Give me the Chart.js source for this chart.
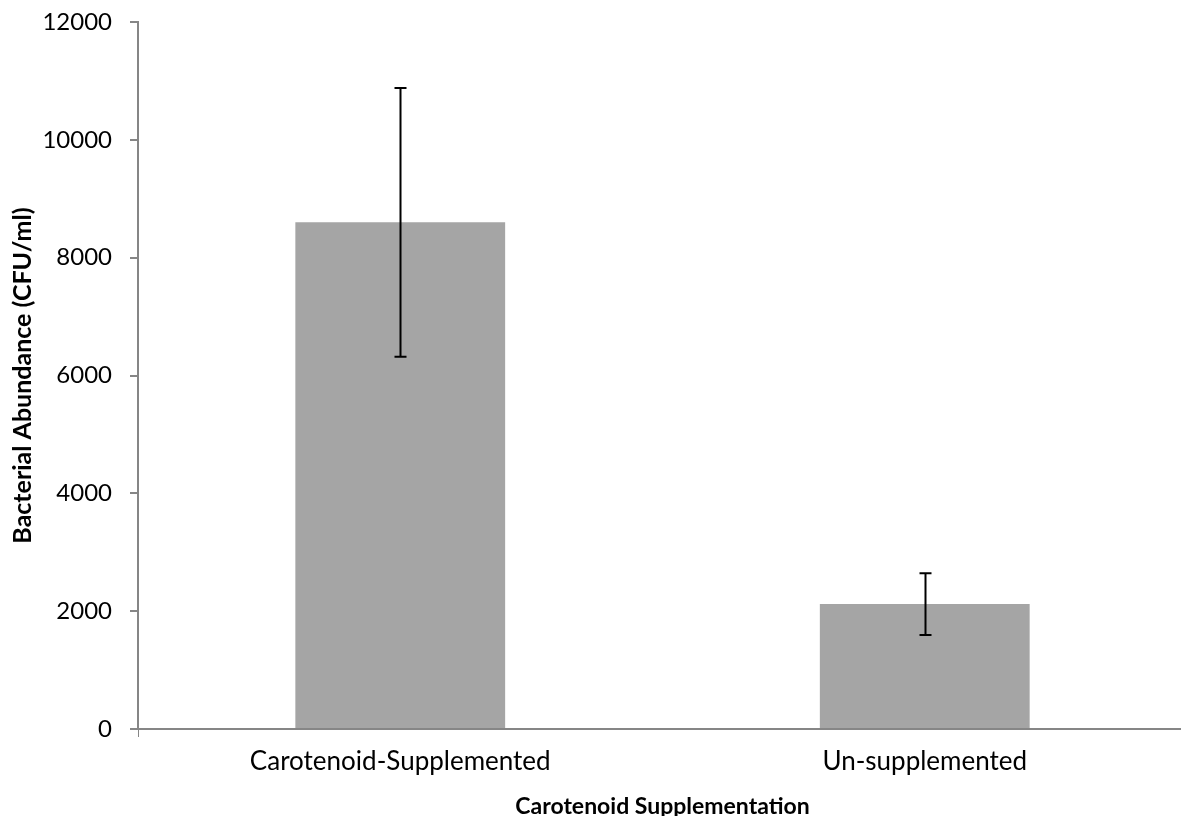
<!DOCTYPE html>
<html>
<head>
<meta charset="utf-8">
<script src="https://cdn.jsdelivr.net/npm/chart.js@4"></script>
<style>
  html, body { margin: 0; padding: 0; background: #fff; overflow: hidden; }
  #wrap { width: 1192px; height: 816px; }
</style>
</head>
<body>
<div id="wrap"><canvas id="bars"></canvas></div>
<script>
const categories = ["Carotenoid-Supplemented", "Un-supplemented"];
const abundance = [8600, 2120];
const errors = [2280, 525];
const yTicks = [0, 2000, 4000, 6000, 8000, 10000, 12000];

// error bars drawn through the y scale
const errorBars = {
  id: "errorBars",
  afterDatasetsDraw(chart) {
    const ctx = chart.ctx;
    const y = chart.scales.y;
    const meta = chart.getDatasetMeta(0);
    ctx.save();
    ctx.strokeStyle = "#000";
    ctx.lineWidth = 2;
    meta.data.forEach((bar, i) => {
      const top = y.getPixelForValue(abundance[i] + errors[i]);
      const bot = y.getPixelForValue(abundance[i] - errors[i]);
      const x = Math.round(bar.x) + 0.5;
      ctx.beginPath();
      ctx.moveTo(x, top); ctx.lineTo(x, bot);
      ctx.moveTo(x - 6, top); ctx.lineTo(x + 6, top);
      ctx.moveTo(x - 6, bot); ctx.lineTo(x + 6, bot);
      ctx.stroke();
    });
    ctx.restore();
  }
};

new Chart(document.querySelector("#bars"), {
  type: "bar",
  data: {
    labels: categories,
    datasets: [{
      data: abundance,
      backgroundColor: "#a5a5a5",
      borderWidth: 0,
      barPercentage: 0.4,
      categoryPercentage: 1,
    }],
  },
  options: {
    responsive: true,
    maintainAspectRatio: false,
    animation: false,
    layout: { padding: { top: 22, right: 5, left: 0, bottom: 0 } },
    plugins: {
      legend: { display: false },
      tooltip: { enabled: false },
    },
    scales: {
      x: {
        afterFit: (axis) => { axis.height = 87; },
        grid: {
          drawOnChartArea: false,
          drawTicks: true,
          tickLength: 8,
          color: (c) => c.index === 0 ? "#868686" : "rgba(0,0,0,0)",
        },
        border: { color: "#868686", width: 2 },
        ticks: { color: "#000", font: { family: "Lato", size: 26 }, padding: 9 },
        title: {
          display: true,
          text: "Carotenoid Supplementation",
          color: "#000",
          font: { family: "Lato", size: 23, weight: "bold" },
          padding: { top: 12, bottom: -4 },
        },
      },
      y: {
        min: 0,
        max: 12000,
        afterBuildTicks: (axis) => { axis.ticks = yTicks.map(v => ({ value: v })); },
        afterFit: (axis) => {
          axis.width = 138;
          axis.paddingTop = 0;
          axis.paddingBottom = 0;
        },
        grid: {
          drawOnChartArea: false,
          drawTicks: true,
          tickLength: 8,
          color: "#868686",
          lineWidth: 2,
        },
        border: { color: "#868686", width: 2 },
        ticks: {
          color: "#000",
          font: { family: "Lato", size: 24 },
          padding: 18,
          callback: (v) => String(v),
        },
        title: {
          display: true,
          text: "Bacterial Abundance (CFU/ml)",
          color: "#000",
          font: { family: "Lato", size: 25, weight: "bold" },
          padding: { top: 8, bottom: 12 },
        },
      },
    },
  },
  plugins: [errorBars],
});
</script>
</body>
</html>
